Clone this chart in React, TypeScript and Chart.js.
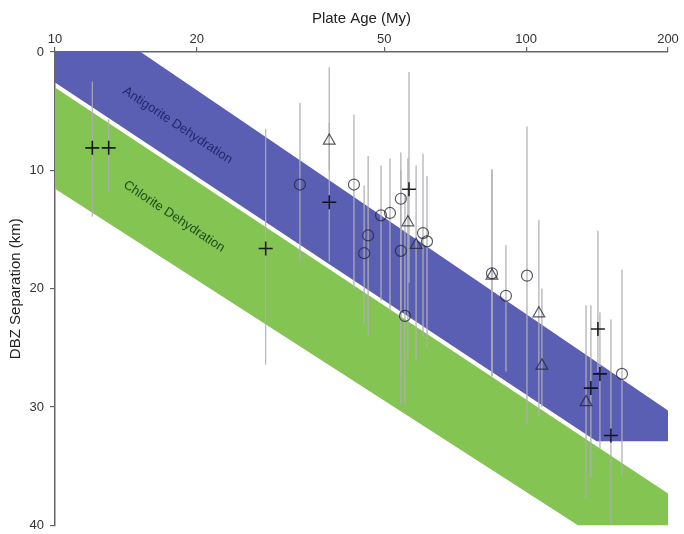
import React, { useEffect, useRef } from 'react';
import { Chart, registerables } from 'chart.js';

Chart.register(...registerables);

// ---- axis ticks ----
const xTickValues = [10, 20, 50, 100, 200];
const yTickValues = [0, 10, 20, 30, 40];

// ---- bands (plate age My, DBZ separation km) ----
const antigoriteBandX = [10, 15.2, 200, 200, 141, 10];
const antigoriteBandY = [0, 0, 30.3, 32.9, 32.9, 2.57];
const chloriteBandX = [10, 200, 200, 129, 10];
const chloriteBandY = [2.99, 37.3, 40, 40, 11.55];

// ---- band labels ----
const bandLabelText = ['Antigorite Dehydration', 'Chlorite Dehydration'];
const bandLabelX = [18.2, 17.9];
const bandLabelY = [6.2, 13.9];
const bandLabelColor = ['#23276a', '#1d4a18'];

// ---- crosses ----
const crossX = [12.0, 13.0, 28.0, 38.2, 56.4, 142.0, 143.4, 137.2, 151.3];
const crossY = [8.1, 8.1, 16.6, 12.7, 11.6, 23.4, 27.2, 28.4, 32.4];
const crossErrTop = [2.5, 5.7, 6.5, 6.0, 1.7, 15.1, 22.0, 21.4, 22.6];
const crossErrBottom = [13.9, 11.8, 26.4, 17.7, 19.5, 27.0, 33.5, 36.0, 40.0];

// ---- circles ----
const circleX = [33.1, 43.1, 54.2, 49.2, 51.4, 46.2, 45.3, 54.2, 60.4, 61.6, 55.3, 84.6, 90.6, 100.4, 159.7];
const circleY = [11.2, 11.2, 12.4, 13.8, 13.6, 15.5, 17.0, 16.8, 15.3, 16.0, 22.3, 18.7, 20.6, 18.9, 27.2];
const circleErrTop = [4.3, 5.3, 8.5, 9.6, 9.0, 8.8, 11.3, 10.0, 8.6, 10.5, 12.0, 9.9, 16.3, 6.3, 18.4];
const circleErrBottom = [17.8, 20.0, 27.0, 21.0, 22.0, 24.0, 23.0, 29.8, 24.0, 25.0, 29.8, 27.4, 27.0, 31.5, 35.8];

// ---- triangles ----
const triX = [38.2, 56.1, 58.4, 84.6, 106.4, 108.0, 134.0];
const triY = [7.5, 14.4, 16.3, 18.9, 22.1, 26.5, 29.6];
const triErrTop = [1.3, 9.0, 9.6, 10.0, 14.2, 20.0, 21.4];
const triErrBottom = [10.0, 26.0, 26.0, 27.4, 30.8, 30.0, 37.7];

const FONT = "'Liberation Sans', Arial, Helvetica, sans-serif";

function pts(xs: number[], ys: number[]) {
  return xs.map((x, i) => ({ x, y: ys[i] }));
}

function errSegments(xs: number[], tops: number[], bottoms: number[]) {
  const out: { x: number; y: number | null }[] = [];
  xs.forEach((x, i) => {
    out.push({ x, y: tops[i] });
    out.push({ x, y: bottoms[i] });
    out.push({ x, y: null });
  });
  return out;
}

const bandLabelPlugin = {
  id: 'bandLabels',
  afterDatasetsDraw(chart: any) {
    const { ctx, scales } = chart;
    const xs = scales.x;
    const ys = scales.y;
    const ax = xs.getPixelForValue(chloriteBandX[0]);
    const ay = ys.getPixelForValue(chloriteBandY[0]);
    const bx = xs.getPixelForValue(chloriteBandX[1]);
    const by = ys.getPixelForValue(chloriteBandY[1]);
    const angle = Math.atan2(by - ay, bx - ax);
    ctx.save();
    bandLabelText.forEach((t, i) => {
      const px = xs.getPixelForValue(bandLabelX[i]);
      const py = ys.getPixelForValue(bandLabelY[i]);
      ctx.save();
      ctx.translate(px, py);
      ctx.rotate(angle);
      ctx.font = `13px ${FONT}`;
      ctx.fillStyle = bandLabelColor[i];
      ctx.textAlign = 'center';
      ctx.textBaseline = 'middle';
      ctx.fillText(t, 0, 0);
      ctx.restore();
    });
    ctx.restore();
  },
};

export default function App() {
  const ref = useRef<HTMLCanvasElement | null>(null);

  useEffect(() => {
    document.body.style.margin = '0';
    const canvas = ref.current;
    if (!canvas) return;
    const markerColor = 'rgba(35,35,50,0.75)';
    const chart = new Chart(canvas, {
      type: 'scatter',
      data: {
        datasets: [
          {
            type: 'line',
            label: 'Antigorite',
            data: pts(antigoriteBandX, antigoriteBandY),
            backgroundColor: '#5b5fb4',
            borderWidth: 0,
            pointRadius: 0,
            fill: 'shape',
            tension: 0,
            order: 10,
          } as any,
          {
            type: 'line',
            label: 'Chlorite',
            data: pts(chloriteBandX, chloriteBandY),
            backgroundColor: '#84c452',
            borderWidth: 0,
            pointRadius: 0,
            fill: 'shape',
            tension: 0,
            order: 10,
          } as any,
          {
            type: 'line',
            label: 'errors',
            data: [
              ...errSegments(circleX, circleErrTop, circleErrBottom),
              ...errSegments(triX, triErrTop, triErrBottom),
              ...errSegments(crossX, crossErrTop, crossErrBottom),
            ],
            borderColor: 'rgba(175,175,180,0.55)',
            borderWidth: 1,
            pointRadius: 0,
            spanGaps: false,
            fill: false,
            tension: 0,
            order: 5,
          } as any,
          {
            label: 'circles',
            data: pts(circleX, circleY),
            pointStyle: 'circle',
            pointRadius: 5.5,
            borderColor: markerColor,
            backgroundColor: 'rgba(0,0,0,0)',
            borderWidth: 1.2,
            order: 1,
          },
          {
            label: 'triangles',
            data: pts(triX, triY),
            pointStyle: 'triangle',
            pointRadius: 6.8,
            borderColor: markerColor,
            backgroundColor: 'rgba(0,0,0,0)',
            borderWidth: 1.2,
            order: 1,
          },
          {
            label: 'crosses',
            data: pts(crossX, crossY),
            pointStyle: 'cross',
            pointRadius: 7,
            borderColor: 'rgba(10,10,15,0.9)',
            borderWidth: 1.6,
            order: 1,
          },
        ],
      },
      options: {
        responsive: false,
        animation: false,
        devicePixelRatio: 1,
        events: [],
        layout: { padding: { left: 0, top: 0, right: 16, bottom: 4 } },
        plugins: {
          legend: { display: false },
          tooltip: { enabled: false },
        },
        scales: {
          x: {
            type: 'logarithmic',
            position: 'top',
            min: 10,
            max: 200,
            afterBuildTicks: (scale: any) => {
              scale.ticks = xTickValues.map((v) => ({ value: v }));
            },
            afterFit: (scale: any) => {
              scale.height = 52;
            },
            ticks: {
              callback: (v: any) => String(v),
              font: { family: FONT, size: 13 },
              color: '#333',
              padding: 0,
              maxRotation: 0,
              autoSkip: false,
            },
            grid: {
              drawOnChartArea: false,
              drawTicks: true,
              tickLength: 5,
              color: '#666',
              lineWidth: 1.2,
            },
            border: { display: true, color: '#666', width: 1.5 },
            title: {
              display: true,
              text: 'Plate Age (My)',
              font: { family: FONT, size: 15 },
              color: '#222',
              padding: { top: 10, bottom: 0 },
            },
          },
          y: {
            type: 'linear',
            position: 'left',
            min: 0,
            max: 40,
            reverse: true,
            afterBuildTicks: (scale: any) => {
              scale.ticks = yTickValues.map((v) => ({ value: v }));
            },
            afterFit: (scale: any) => {
              scale.width = 55;
              scale.paddingTop = 0;
              scale.paddingBottom = 0;
            },
            ticks: {
              font: { family: FONT, size: 13 },
              color: '#333',
              padding: 6,
            },
            grid: {
              drawOnChartArea: false,
              drawTicks: true,
              tickLength: 5,
              color: '#666',
              lineWidth: 1.2,
            },
            border: { display: true, color: '#666', width: 1.5 },
            title: {
              display: true,
              text: 'DBZ Separation (km)',
              font: { family: FONT, size: 15 },
              color: '#222',
              padding: { top: 7, bottom: 0 },
            },
          },
        },
      },
      plugins: [bandLabelPlugin],
    });
    return () => chart.destroy();
  }, []);

  return (
    <div style={{ width: 684, height: 534 }}>
      <canvas ref={ref} width={684} height={534} style={{ display: 'block' }} />
    </div>
  );
}
